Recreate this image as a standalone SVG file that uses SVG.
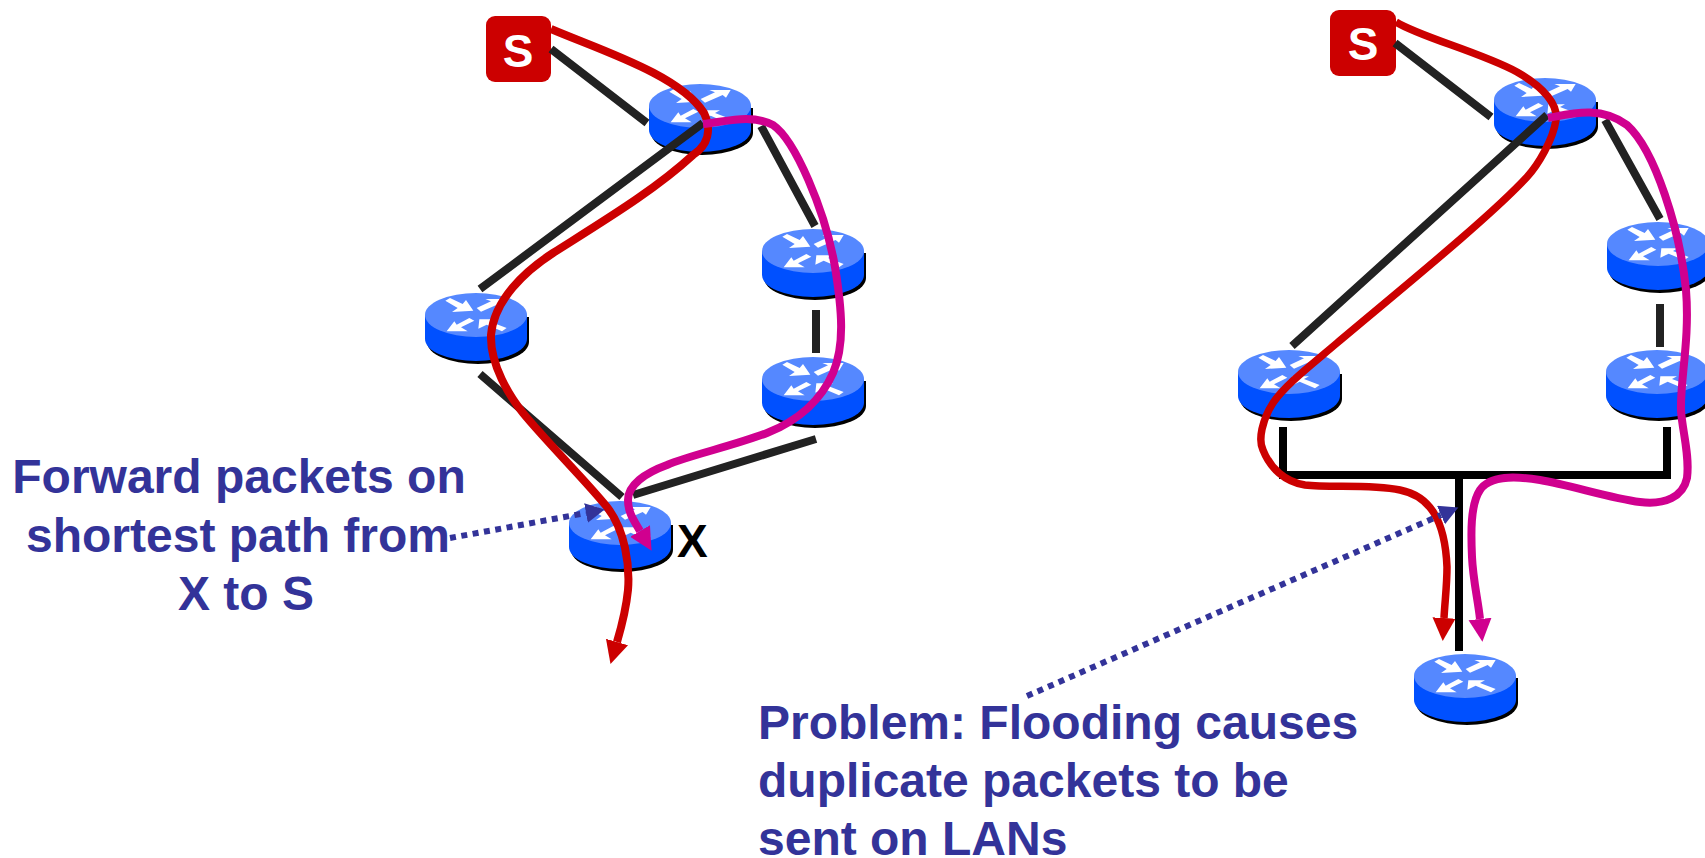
<svg xmlns="http://www.w3.org/2000/svg" xmlns:xlink="http://www.w3.org/1999/xlink" width="1705" height="858" viewBox="0 0 1705 858">
<style>
text{font-family:"Liberation Sans",Arial,sans-serif;font-weight:700}
.t{font-size:48px;fill:#333399}
.c{text-anchor:middle}
.s{font-size:46px;fill:#fff;text-anchor:middle}
.x{font-size:46px;fill:#000}
.lk{fill:none;stroke:#222;stroke-width:8}
.lan{fill:none;stroke:#000;stroke-width:8}
.red{fill:none;stroke:#cc0000;stroke-width:8;marker-end:url(#ar)}
.mag{fill:none;stroke:#d0008f;stroke-width:8;marker-end:url(#am)}
.dot{fill:none;stroke:#333399;stroke-width:6;stroke-dasharray:6 5.500;marker-end:url(#an)}
.sq{fill:#cc0000}
</style>
<defs>
<marker id="ar" markerUnits="userSpaceOnUse" markerWidth="26" markerHeight="26" refX="0" refY="12" orient="auto" viewBox="0 0 26 26"><path d="M0 0.500L23 12L0 23.500Z" fill="#cc0000"/></marker>
<marker id="am" markerUnits="userSpaceOnUse" markerWidth="26" markerHeight="26" refX="0" refY="12" orient="auto" viewBox="0 0 26 26"><path d="M0 0.500L23 12L0 23.500Z" fill="#d0008f"/></marker>
<marker id="an" markerUnits="userSpaceOnUse" markerWidth="22" markerHeight="22" refX="0" refY="10" orient="auto" viewBox="0 0 22 22"><path d="M0 0L19 10L0 20Z" fill="#333399"/></marker>
<g id="router">
<path d="M-49 2V27A51 22 0 0 0 53 27V2Z" fill="#000"/>
<path d="M-51 0V24A51 22 0 0 0 51 24V0Z" fill="#0050ff"/>
<ellipse cx="0" cy="0" rx="51" ry="22" fill="#5588ff"/>
<g transform="scale(.3333) translate(-180 -93)" fill="#fff">
<path d="M88 50L102 42L140 60L150 48L172 80L108 84L125 72Z"/>
<path d="M182 72L225 52L208 45L272 45L258 68L248 60L195 83Z"/>
<path d="M175 110L160 102L122 122L115 112L92 142L155 142L135 130Z"/>
<path d="M190 106L240 106L225 114L272 132L258 142L212 122L187 134Z"/>
</g>
</g>
</defs>
<rect width="1705" height="858" fill="#fff"/>
<g id="n-l-s"><rect class="sq" x="486" y="16" width="65" height="66" rx="9"/><text class="s" x="518" y="67">S</text></g>
<g id="n-l-r1"><use xlink:href="#router" href="#router" x="700" y="106"/></g>
<g id="n-l-r2"><use xlink:href="#router" href="#router" x="813" y="251"/></g>
<g id="n-l-r3"><use xlink:href="#router" href="#router" x="476" y="315"/></g>
<g id="n-l-r4"><use xlink:href="#router" href="#router" x="813" y="379"/></g>
<g id="n-l-x"><use xlink:href="#router" href="#router" x="620" y="523"/><text class="x" x="677" y="557">X</text></g>
<g id="n-r-s"><rect class="sq" x="1330" y="10" width="66" height="66" rx="9"/><text class="s" x="1363" y="60">S</text></g>
<g id="n-r-r1"><use xlink:href="#router" href="#router" x="1545" y="100"/></g>
<g id="n-r-r2"><use xlink:href="#router" href="#router" x="1658" y="244"/></g>
<g id="n-r-r3"><use xlink:href="#router" href="#router" x="1289" y="372"/></g>
<g id="n-r-r4"><use xlink:href="#router" href="#router" x="1657" y="372"/></g>
<g id="n-r-b"><use xlink:href="#router" href="#router" x="1465" y="676"/></g>
<g id="connectors">
<path class="lk" d="M551 49L647 123M703 123L480 289M761 126L815 226M816 310V353M480 374L622 497M816 439L633 495"/>
<path class="lk" d="M1395 43L1491 117M1547 115L1292 346M1605 120L1660 219M1660 304V347"/>
<path class="lan" d="M1283 427V475M1667 427V479M1279 475H1671M1459 475V651"/>
<path class="red" d="M551 29C600 50 680 75 704 113C712 130 708 145 693 155C655 190 605 220 553 253C525 271 494 300 491 335C490 365 510 397 523 413C545 440 585 480 607 507C625 530 630 565 628 590C626 610 622 625 617 642"/>
<path class="mag" d="M703 124C725 122 750 113 773 125C795 140 825 210 835 267C842 310 845 345 833 373C822 398 800 420 767 433C730 447 690 455 667 465C645 473 628 485 628 500C628 512 633 519 640 531"/>
<path class="red" style="stroke-width:7.500" d="M1396 22C1420 37 1480 52 1517 72C1545 88 1558 105 1556 120C1553 140 1538 165 1527 177C1490 217 1400 290 1337 343C1310 366 1285 385 1273 403C1262 420 1258 440 1263 450C1270 468 1285 482 1305 485C1330 488 1370 484 1400 490C1430 496 1445 520 1447 567C1447 585 1445 600 1444 618"/>
<path class="mag" d="M1548 118C1570 114 1600 105 1627 125C1655 150 1680 230 1686 290C1690 340 1680 380 1681 410C1682 430 1690 455 1687 478C1683 497 1665 505 1640 502C1610 498 1570 485 1540 480C1515 476 1490 475 1480 490C1470 505 1471 535 1472 557C1473 580 1478 600 1480 619"/>
<path class="dot" d="M450 538L586 513"/>
<path class="dot" d="M1027 696L1441 515"/>
</g>
<g id="labels">
<text class="t c" x="239" y="493">Forward packets on</text>
<text class="t c" x="238" y="552">shortest path from</text>
<text class="t c" x="246" y="610">X to S</text>
<text class="t" x="758" y="739">Problem: Flooding causes</text>
<text class="t" x="758" y="797">duplicate packets to be</text>
<text class="t" x="758" y="855">sent on LANs</text>
</g>
</svg>
